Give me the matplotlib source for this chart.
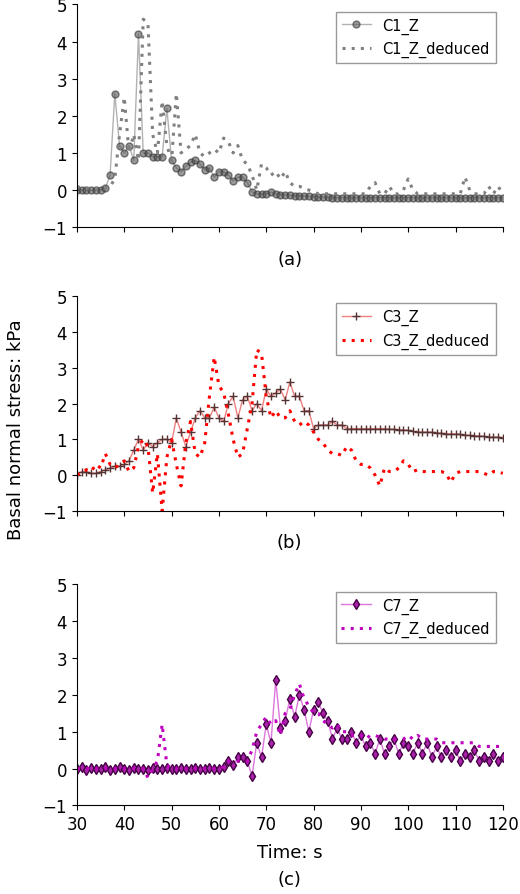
import numpy as np
import matplotlib
matplotlib.use('Agg')
import matplotlib.pyplot as plt

t = np.arange(30, 121)

c1_z = [0.0, 0.0, 0.0, 0.0, 0.0, 0.0, 0.05, 0.4, 2.6, 1.2, 1.0, 1.2, 0.8, 4.2, 1.0, 1.0, 0.9, 0.9, 0.9, 2.2,
        0.8, 0.6, 0.5, 0.65, 0.75, 0.8, 0.7, 0.55, 0.6, 0.35, 0.5, 0.5, 0.4, 0.25, 0.35, 0.35, 0.2, -0.05, -0.1, -0.1,
        -0.1, -0.05, -0.1, -0.12, -0.12, -0.14, -0.15, -0.15, -0.16, -0.17, -0.18, -0.18, -0.19, -0.19, -0.2, -0.2, -0.2, -0.2, -0.2, -0.2,
        -0.2, -0.2, -0.2, -0.2, -0.2, -0.2, -0.2, -0.2, -0.2, -0.2, -0.2, -0.2, -0.2, -0.2, -0.2, -0.2, -0.2, -0.2, -0.2, -0.2,
        -0.2, -0.2, -0.2, -0.2, -0.2, -0.2, -0.2, -0.2, -0.2, -0.2, -0.2]
c1_ded = [0.1, 0.05, 0.05, 0.05, 0.05, 0.05, 0.05, 0.1, 0.3, 1.5, 2.5, 1.0, 1.5, 0.8, 4.6, 4.5, 1.5, 1.0, 2.4, 1.2,
          0.8, 2.6, 1.0, 1.1, 1.2, 1.5, 1.0, 0.9, 1.0, 1.1, 1.0, 1.4, 1.3, 1.0, 1.2, 0.8, 0.7, 0.4, 0.0, 0.7,
          0.6, 0.4, 0.5, 0.3, 0.5, 0.2, 0.1, 0.1, 0.05, 0.0, -0.05, -0.1, -0.1, -0.1, -0.1, -0.1, -0.1, -0.1, -0.1, -0.1,
          -0.1, -0.1, 0.1, 0.2, -0.1, -0.1, 0.1, -0.1, -0.1, 0.0, 0.3, 0.0, -0.1, -0.1, -0.1, -0.1, -0.1, -0.1, -0.1, -0.1,
          -0.1, -0.1, 0.35, 0.0, -0.1, -0.1, -0.1, 0.1, -0.1, 0.1, -0.1]

c3_z = [0.0, 0.1, 0.1, 0.05, 0.05, 0.1, 0.15, 0.2, 0.25, 0.25, 0.3, 0.4, 0.7, 1.0, 0.7, 0.9, 0.8, 0.9, 1.0, 1.0,
        0.9, 1.6, 1.2, 0.8, 1.2, 1.6, 1.8, 1.6, 1.6, 1.9, 1.6, 1.5, 2.0, 2.2, 1.6, 2.1, 2.2, 1.8, 2.0, 1.8,
        2.4, 2.2, 2.3, 2.4, 2.1, 2.6, 2.2, 2.2, 1.8, 1.8, 1.3, 1.4, 1.4, 1.4, 1.5, 1.4, 1.4, 1.3, 1.3, 1.3,
        1.3, 1.3, 1.3, 1.3, 1.3, 1.3, 1.28, 1.28, 1.27, 1.26, 1.25, 1.22, 1.2, 1.2, 1.2, 1.2, 1.18, 1.17, 1.16, 1.15,
        1.15, 1.14, 1.12, 1.11, 1.1, 1.1, 1.08, 1.07, 1.06, 1.06, 1.05]
c3_ded = [0.0, 0.1, 0.15, 0.1, 0.3, 0.2, 0.6, 0.3, 0.2, 0.3, 0.4, 0.1, 0.2, 0.8, 1.0, 0.8, -0.5, 0.6, -1.0, 0.5,
          1.0, 0.3, -0.3, 0.9, 1.5, 0.6, 0.5, 0.9, 2.2, 3.3, 2.5, 2.3, 1.7, 1.0, 0.5, 0.6, 1.3, 2.0, 3.5, 3.4,
          2.2, 1.6, 1.8, 1.6, 1.6, 1.8, 1.5, 1.4, 1.5, 1.4, 1.2, 1.0, 0.9, 0.7, 0.6, 0.6, 0.55, 0.8, 0.7, 0.4,
          0.3, 0.3, 0.2, 0.0, -0.3, 0.2, 0.1, 0.1, 0.2, 0.4, 0.3, 0.1, 0.15, 0.1, 0.1, 0.1, 0.1, 0.1, 0.05, -0.2,
          0.05, 0.1, 0.1, 0.1, 0.1, 0.1, 0.05, 0.0, 0.1, 0.1, 0.05]

c7_z = [0.0, 0.03, -0.03, 0.02, -0.02, 0.0, 0.03, -0.03, 0.0, 0.05, 0.0, -0.03, 0.02, -0.02, 0.0, -0.03, 0.02, -0.02, 0.0, 0.02,
        -0.02, 0.0, 0.02, -0.02, 0.0, 0.02, -0.02, 0.0, 0.02, -0.02, 0.0, 0.05, 0.2, 0.1, 0.3, 0.3, 0.2, -0.2, 0.7, 0.3,
        1.2, 0.7, 2.4, 1.1, 1.3, 1.9, 1.4, 2.0, 1.6, 1.0, 1.6, 1.8, 1.5, 1.3, 0.8, 1.1, 0.8, 0.8, 1.0, 0.7,
        0.9, 0.6, 0.7, 0.4, 0.8, 0.4, 0.6, 0.8, 0.4, 0.7, 0.6, 0.4, 0.7, 0.4, 0.7, 0.3, 0.6, 0.3, 0.5, 0.3,
        0.5, 0.2, 0.4, 0.3, 0.5, 0.2, 0.3, 0.2, 0.4, 0.2, 0.3]
c7_ded = [0.0, 0.0, 0.0, 0.0, 0.0, 0.0, 0.0, 0.0, 0.0, 0.0, 0.0, 0.0, 0.0, 0.0, 0.0, -0.25, 0.0, 0.2, 1.2, 0.1,
          0.0, 0.0, 0.0, 0.0, 0.0, 0.0, 0.0, 0.0, 0.0, 0.0, 0.0, 0.05, 0.2, 0.2, 0.2, 0.2, 0.2, 0.5, 1.0, 1.2,
          1.4, 1.2, 1.3, 0.9, 1.5, 1.6, 2.0, 2.3, 1.9, 1.7, 1.5, 1.5, 1.3, 1.2, 1.1, 1.2, 1.0, 1.0, 0.9, 0.9,
          0.9, 0.8, 0.9, 0.9, 0.85, 0.8, 0.8, 0.8, 0.8, 0.8, 0.9, 0.8, 0.9, 0.8, 0.8, 0.8, 0.8, 0.7, 0.7, 0.7,
          0.7, 0.7, 0.7, 0.7, 0.7, 0.6, 0.6, 0.6, 0.6, 0.6, 0.6]

plt.rcParams['font.family'] = 'DejaVu Sans'
fig = plt.figure(figsize=(5.2, 8.95), dpi=100)

panels = [
    ([0.148, 0.745, 0.819, 0.249], c1_z, c1_ded, 'C1', 'grey', '(a)', 0.704),
    ([0.148, 0.428, 0.819, 0.240], c3_z, c3_ded, 'C3', 'red', '(b)', 0.388),
    ([0.148, 0.099, 0.819, 0.247], c7_z, c7_ded, 'C7', 'm', '(c)', 0.011),
]

for rect, z, ded, name, dcol, lab, ly in panels:
    ax = fig.add_axes(rect)
    if name == 'C1':
        ax.plot(t, z, color='grey', marker='o', markersize=5, markerfacecolor='#555555',
                markeredgecolor='#333333', alpha=0.6, linewidth=1, label=name + '_Z')
    elif name == 'C3':
        ax.plot(t, z, color='#f08080', marker='+', markersize=6, markeredgecolor='#553333',
                linewidth=1, label=name + '_Z')
    else:
        ax.plot(t, z, color='#dd77dd', marker='d', markersize=5, markerfacecolor='#aa22aa',
                markeredgecolor='#440044', linewidth=1, label=name + '_Z')
    ax.plot(t, ded, color=dcol, linestyle=(0, (1, 2)), linewidth=2.2, label=name + '_Z_deduced')
    ax.set_xlim(30, 120)
    ax.set_ylim(-1, 5)
    ax.set_xticks(range(30, 121, 10))
    ax.set_yticks(range(-1, 6))
    ax.spines['top'].set_visible(False)
    ax.spines['right'].set_visible(False)
    ax.tick_params(direction='out', labelsize=12)
    if name != 'C7':
        ax.set_xticklabels([])
    ax.legend(loc='upper right', fontsize=10.5, fancybox=False, edgecolor='#999999', framealpha=1)
    fig.text(0.557, ly, lab, ha='center', fontsize=13)

fig.text(0.557, 0.041, 'Time: s', ha='center', fontsize=13)
fig.text(0.03, 0.52, 'Basal normal stress: kPa', rotation=90, va='center', ha='center', fontsize=13)

fig.savefig('out.png')
